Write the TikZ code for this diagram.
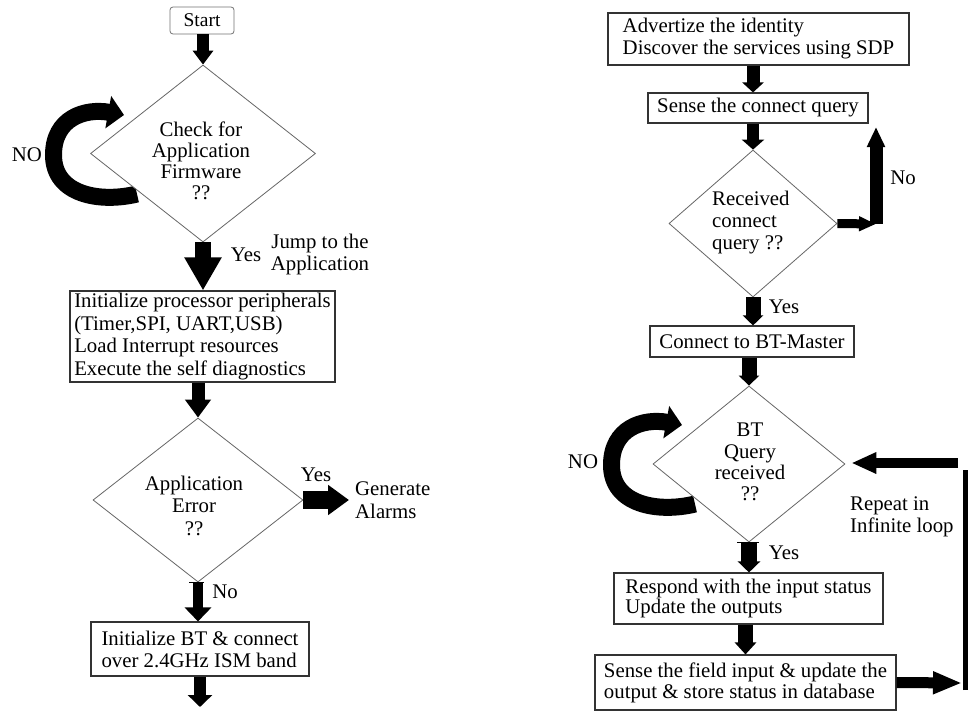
\documentclass[tikz,border=0pt]{standalone}
\usepackage{fontspec}
\setmainfont{Liberation Serif}
\usetikzlibrary{arrows.meta,shapes.geometric}
\begin{document}
\begin{tikzpicture}[x=1pt,y=-1pt,
  txt/.style={font=\fontsize{20.8}{22}\selectfont, inner sep=0pt},
  box/.style={draw=black!80, line width=1.1pt, inner sep=0pt, align=left, fill=white},
  dec/.style={draw=black!60, line width=0.8pt, shape=diamond, inner sep=0pt, fill=white},
  fat/.style n args={3}{line width=#1pt, -{Triangle[width=#2pt,length=#3pt]}},
  loopline/.style={line width=17pt, -{Triangle[width=32pt,length=16pt]}},
]
\useasboundingbox (0,0) rectangle (970,712);
\fill[white] (0,0) rectangle (970,712);

% ---------- self loops (drawn first, the decision shapes cover their ends)
\coordinate (l1a) at (137,194);
\coordinate (l1b) at (124,115);
\draw[loopline] (l1a) .. controls (100,203) and (53.5,195) .. (53.5,155)
                      .. controls (53.5,118) and (85,108) .. (l1b);
\begin{scope}[shift={(558,310)}]
\coordinate (l2a) at (137,194);
\coordinate (l2b) at (124,115);
\draw[loopline] (l2a) .. controls (100,203) and (53.5,195) .. (53.5,155)
                      .. controls (53.5,118) and (85,108) .. (l2b);
\end{scope}

% ---------- left column
\node[box, draw=black!55, line width=0.8pt, rounded corners=3pt, align=center,
      minimum width=64pt, minimum height=27pt, font=\fontsize{19.5}{20}\selectfont]
      (start) at (202,20.5) {Start};
\node[dec, minimum width=225pt, minimum height=177pt] (d1) at (203,153.5) {};
\node[txt, align=center, font=\fontsize{20.8}{21}\selectfont] (d1t) at (201,161)
      {Check for\\Application\\Firmware\\??};
\node[box, minimum width=265pt, minimum height=91pt, font=\fontsize{20.8}{22.7}\selectfont]
      (init) at (202.5,336.5)
      {Initialize processor peripherals\\(Timer,SPI, UART,USB)\\Load Interrupt resources\\Execute the self diagnostics};
\node[dec, minimum width=210pt, minimum height=164pt] (d2) at (198,500) {};
\node[txt, align=center, font=\fontsize{20.8}{22.5}\selectfont] (d2t) at (194,505.5)
      {Application\\Error\\??};
\node[txt, anchor=west, align=left, font=\fontsize{20.8}{23}\selectfont] (alarm) at (355,500)
      {Generate\\Alarms};
\node[box, minimum width=218pt, minimum height=54pt, font=\fontsize{20.8}{22}\selectfont]
      (btinit) at (200,649) {Initialize BT \& connect\\over 2.4GHz ISM band};
\coordinate (lend) at (200,707);

% ---------- right column
\node[box, minimum width=301pt, minimum height=52pt, font=\fontsize{20.8}{22}\selectfont]
      (advert) at (758.5,39) {Advertize the identity\\Discover the services using SDP};
\node[box, minimum width=220pt, minimum height=30pt, font=\fontsize{20.8}{22}\selectfont]
      (sense) at (758,108) {Sense the connect query};
\node[dec, minimum width=168pt, minimum height=147pt] (rcq) at (753,223.5) {};
\node[txt, anchor=west, align=left, font=\fontsize{20.8}{22}\selectfont] (rcqt) at (712,223)
      {Received\\connect\\query ??};
\node[box, minimum width=204pt, minimum height=31pt, font=\fontsize{20.8}{22}\selectfont]
      (master) at (752,341.5) {Connect to BT-Master};
\node[dec, minimum width=192pt, minimum height=156pt] (btq) at (749,464) {};
\node[txt, align=center, font=\fontsize{20.8}{21.3}\selectfont] (btqt) at (750,462)
      {BT\\Query\\received\\??};
\node[box, minimum width=269pt, minimum height=51pt, font=\fontsize{20.8}{20.5}\selectfont]
      (respond) at (748.5,598.5) {Respond with the input status\\Update the outputs};
\node[box, minimum width=301pt, minimum height=55pt, font=\fontsize{20.8}{21}\selectfont]
      (field) at (745.5,682.5) {Sense the field input \& update the\\output \& store status in database};

\coordinate (noturn) at (876,224);
\coordinate (notop) at (876,127);
\coordinate (rb) at (962,683);
\coordinate (rcb) at (965,690);
\coordinate (rct) at (965,470);
\coordinate (rtop) at (958,463);

% ---------- labels
\node[txt] (no1) at (27,155) {NO};
\node[txt] (yes1) at (246,255) {Yes};
\node[txt, align=center] (jump) at (320,254) {Jump to the\\Application};
\node[txt] (yes2) at (316,475) {Yes};
\node[txt] (no2) at (225,592) {No};
\node[txt] (no3) at (903,178) {No};
\node[txt] (yes3) at (784,307) {Yes};
\node[txt] (yes4) at (784,553) {Yes};
\node[txt] (no4) at (583,462) {NO};
\node[txt, anchor=west, align=left] (repeat) at (850,517) {Repeat in\\Infinite loop};

% ---------- connectors
\draw[fat={12}{20}{14}] (start.south -| d1.north) -- (d1.north);
\draw[fat={16}{35}{33}] (d1.south) -- (init.north -| d1.south);
\draw[fat={13}{25}{18}] (init.south -| d2.north) -- (d2.north);
\draw[fat={18}{29}{21}, shorten >=6pt] (d2.east) -- (d2.east -| alarm.west);
\draw[fat={10}{26}{14}] (d2.south) -- (btinit.north -| d2.south);
\draw[fat={12}{24}{12}] (btinit.south) -- (lend);
\draw[line width=1pt] ([xshift=-9pt]d2.south) -- ([xshift=6pt]d2.south);

\draw[fat={13}{21}{10}] (advert.south -| rcq.north) -- (sense.north -| rcq.north);
\draw[fat={12}{22}{10}] (sense.south -| rcq.north) -- (rcq.north);
\draw[fat={15}{20}{10}] (rcq.south) -- (master.north -| rcq.south);
\draw[fat={15}{20}{10}] (master.south -| btq.north) -- (btq.north);
\draw[fat={16}{22}{11}] (btq.south) -- (respond.north -| btq.south);
\draw[fat={15}{21}{12}] (respond.south -| field.north) -- (field.north);
\draw[line width=1pt] ([xshift=-12pt]btq.south) -- ([xshift=10pt]btq.south);

\draw[fat={9}{14}{17}] (rcq.east) -- (noturn);
\draw[fat={13}{17}{20}] (noturn) -- (notop);

\draw[fat={11}{21}{29}] (field.east) -- (rb);
\draw[line width=5pt] (rcb) -- (rct);
\draw[fat={10}{20}{25}, shorten >=6pt] (rtop) -- (rtop -| btq.east);
\end{tikzpicture}
\end{document}
